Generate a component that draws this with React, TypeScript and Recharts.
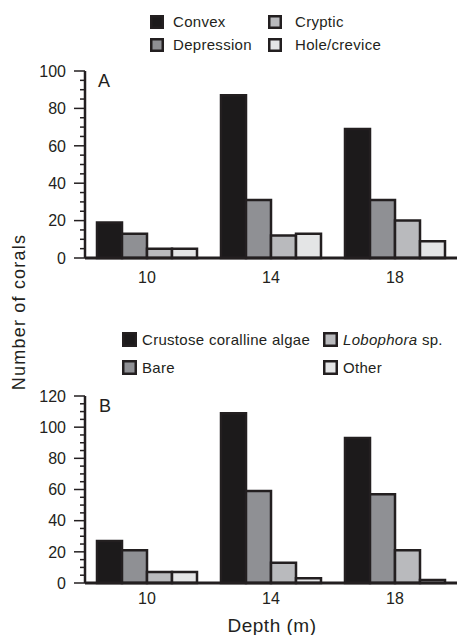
import React from 'react';
import { BarChart, Bar, XAxis, YAxis } from 'recharts';

// ---- data ----
const depths = ['10', '14', '18'];

const seriesA = ['Convex', 'Depression', 'Cryptic', 'Hole/crevice'];
const convex = [19, 87, 69];
const depression = [13, 31, 31];
const cryptic = [5, 12, 20];
const holeCrevice = [5, 13, 9];

const seriesB = ['Crustose coralline algae', 'Bare', 'Lobophora sp.', 'Other'];
const crustose = [27, 109, 93];
const bare = [21, 59, 57];
const lobophora = [7, 13, 21];
const other = [7, 3, 2];

const yMajorA = [0, 20, 40, 60, 80, 100];
const yMinorA = [0, 5, 10, 15, 20, 25, 30, 35, 40, 45, 50, 55, 60, 65, 70, 75, 80, 85, 90, 95, 100];
const yMajorB = [0, 20, 40, 60, 80, 100, 120];
const yMinorB = [0, 5, 10, 15, 20, 25, 30, 35, 40, 45, 50, 55, 60, 65, 70, 75, 80, 85, 90, 95, 100, 105, 110, 115, 120];

// ---- styles ----
const INK = '#231f20';
const FILLS = ['#1c1a1b', '#8f9094', '#b9babd', '#e4e5e6'];
const FONT = '"Liberation Sans", Arial, Helvetica, sans-serif';

const dataA = depths.map((d, i) => ({ depth: d, s0: convex[i], s1: depression[i], s2: cryptic[i], s3: holeCrevice[i] }));
const dataB = depths.map((d, i) => ({ depth: d, s0: crustose[i], s1: bare[i], s2: lobophora[i], s3: other[i] }));

const makeYTick = (major: number[]) => (props: any) => {
  const { x, y, payload } = props;
  const isMajor = major.includes(payload.value);
  return (
    <g>
      <line x1={x - (isMajor ? 11 : 5)} x2={x} y1={y} y2={y} stroke={INK} strokeWidth={1.5} />
      {isMajor && (
        <text x={x - 19} y={y} dy="0.36em" textAnchor="end" fontSize={16} fill={INK} fontFamily={FONT}>
          {payload.value}
        </text>
      )}
    </g>
  );
};

const LegendItem = ({ x, y, size, label, fill, textOffset }: any) => {
  const m = label.match(/^(.*) sp\.$/);
  return (
    <g>
      <rect x={x + 1.25} y={y + 1.25} width={size - 2.5} height={size - 2.5} fill={fill} stroke={INK} strokeWidth={2.5} />
      <text x={x + textOffset} y={y + size / 2 + 5.3} fontSize={15} fill={INK} fontFamily={FONT} letterSpacing={0.3}>
        {m ? (
          <>
            <tspan fontStyle="italic">{m[1]}</tspan>
            <tspan> sp.</tspan>
          </>
        ) : (
          label
        )}
      </text>
    </g>
  );
};

const Panel = ({ data, domain, major, minor, height, marginTop, xHeight, tickMargin }: any) => (
  <BarChart
    width={457}
    height={height}
    data={data}
    margin={{ top: marginTop, right: 0, left: 0, bottom: 0 }}
    barCategoryGap={12}
    barGap={0}
  >
    <XAxis
      dataKey="depth"
      height={xHeight}
      tickLine={false}
      tickSize={0}
      tickMargin={tickMargin}
      axisLine={{ stroke: INK, strokeWidth: 3 }}
      tick={{ fontSize: 16, fill: INK, fontFamily: FONT }}
    />
    <YAxis
      width={85}
      domain={domain}
      ticks={minor}
      interval={0}
      tickLine={false}
      tickSize={0}
      tickMargin={0}
      axisLine={{ stroke: INK, strokeWidth: 2.5 }}
      tick={makeYTick(major)}
    />
    {[0, 1, 2, 3].map((k) => (
      <Bar key={k} dataKey={`s${k}`} fill={FILLS[k]} stroke={INK} strokeWidth={2.5} isAnimationActive={false} />
    ))}
  </BarChart>
);

export default function App() {
  const legA = [
    { col: 0, row: 0 },
    { col: 0, row: 1 },
    { col: 1, row: 0 },
    { col: 1, row: 1 },
  ];
  return (
    <div style={{ position: 'absolute', left: 0, top: 0, width: 457, height: 635, background: '#fff', overflow: 'hidden' }}>
      <div style={{ position: 'absolute', left: 0, top: 0 }}>
        <Panel data={dataA} domain={[0, 100]} major={yMajorA} minor={yMinorA} height={300} marginTop={71} xHeight={42} tickMargin={14} />
      </div>
      <div style={{ position: 'absolute', left: 0, top: 300 }}>
        <Panel data={dataB} domain={[0, 120]} major={yMajorB} minor={yMinorB} height={335} marginTop={96} xHeight={52} tickMargin={10} />
      </div>
      <svg width={457} height={635} style={{ position: 'absolute', left: 0, top: 0, pointerEvents: 'none' }}>
        {seriesA.map((name, i) => (
          <LegendItem
            key={name}
            x={[150, 268][legA[i].col]}
            y={[15, 38][legA[i].row]}
            size={14}
            label={name}
            fill={FILLS[i]}
            textOffset={[23, 27][legA[i].col]}
          />
        ))}
        {seriesB.map((name, i) => (
          <LegendItem
            key={name}
            x={[122, 323][legA[i].col]}
            y={[332, 360][legA[i].row]}
            size={15}
            label={name}
            fill={FILLS[i]}
            textOffset={20}
          />
        ))}
        <text x={98} y={87} fontSize={18} fill={INK} fontFamily={FONT}>A</text>
        <text x={99} y={412} fontSize={18} fill={INK} fontFamily={FONT}>B</text>
        <text
          transform="translate(25,312) rotate(-90)"
          textAnchor="middle"
          fontSize={18}
          fill={INK}
          fontFamily={FONT}
          letterSpacing={1.2}
        >
          Number of corals
        </text>
        <text x={272} y={632} textAnchor="middle" fontSize={19} fill={INK} fontFamily={FONT} letterSpacing={0.5}>
          Depth (m)
        </text>
      </svg>
    </div>
  );
}
